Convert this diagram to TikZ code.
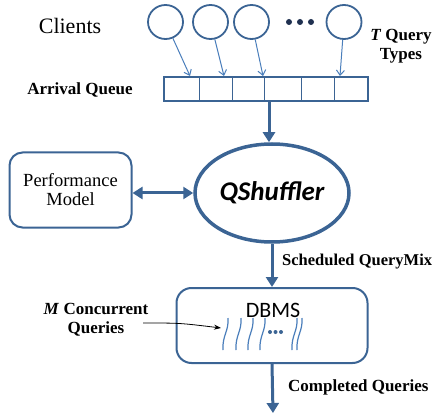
\documentclass[tikz,border=0pt]{standalone}
\usepackage{fontspec}
\setmainfont{Liberation Serif}
\newfontfamily\calibri{Carlito}
\usetikzlibrary{arrows.meta,shapes.geometric}
\definecolor{dblue}{HTML}{3B6494}
\definecolor{lblue}{HTML}{4A7EBB}
\definecolor{navy}{HTML}{1F3050}
\begin{document}
\begin{tikzpicture}[x=1pt,y=-1pt,
  client/.style={draw=dblue,line width=1.8pt,ellipse,minimum width=35pt,minimum height=34pt,inner sep=0pt},
  thinarr/.style={draw=lblue,line width=1pt,-{Straight Barb[length=5pt,width=8pt]}},
  bigarr/.style={draw=dblue,line width=3pt,-{Triangle[length=10pt,width=12pt]}},
  bigdbl/.style={draw=dblue,line width=3pt,{Triangle[length=10pt,width=12pt]}-{Triangle[length=10pt,width=12pt]}},
  rbox/.style={draw=dblue,line width=2pt,rounded corners=13pt,inner sep=0pt},
  blab/.style={font=\fontsize{17}{19}\selectfont\bfseries,inner sep=0pt},
  squig/.style={draw=lblue,line width=1.2pt}
]
\useasboundingbox (0,0) rectangle (436,414);
% clients
\node[font=\fontsize{22}{24}\selectfont,inner sep=0pt] (cl) at (70,26) {Clients};
\node[client] (c1) at (165.5,22) {};
\node[client] (c2) at (210.5,22) {};
\node[client] (c3) at (251.5,22) {};
\node[client] (c4) at (344,22) {};
\foreach \x in {289,300,311} \fill[navy] (\x,22) circle (3pt);
% queue
\node[draw=dblue,line width=1.8pt,minimum width=204pt,minimum height=24pt,inner sep=0pt] (q) at (266,89) {};
\foreach \x in {199,232,264,301,334} \draw[dblue,line width=1pt] (\x,77) -- (\x,101);
\coordinate (q1) at (190,76);
\coordinate (q2) at (224,76);
\coordinate (q3) at (263,76);
\coordinate (q4) at (340,76);
\draw[thinarr] (c1) -- (q1);
\draw[thinarr] (c2) -- (q2);
\draw[thinarr] (c3) -- (q3);
\draw[thinarr] (c4) -- (q4);
\node[blab] (aq) at (80,90) {Arrival Queue};
\node[blab,align=center] (tq) at (401,46) {\textit{T} Query\\Types};
% QShuffler
\node[draw=dblue,line width=3.5pt,ellipse,minimum width=154pt,minimum height=98pt,inner sep=0pt,font=\calibri\fontsize{27}{29}\selectfont\bfseries\itshape] (qs) at (272,193) {QShuffler};
\draw[bigarr] ([xshift=3pt]q.south) -- ([xshift=-3pt]qs.north);
% performance model
\node[rbox,minimum width=122pt,minimum height=75pt,align=center,font=\fontsize{18.5}{19}\selectfont] (pm) at (70.5,190) {Performance\\Model};
\draw[bigdbl] (pm.east |- qs.west) -- (qs.west);
% DBMS
\node[rbox,rounded corners=15pt,minimum width=191pt,minimum height=75pt] (db) at (272,325.5) {};
\node[font=\calibri\fontsize{22}{24}\selectfont,inner sep=0pt] (dbt) at (273,310) {DBMS};
\draw[bigarr] (qs.south) -- (db.north);
\node[blab,font=\fontsize{16.5}{18}\selectfont\bfseries,anchor=west] (sq) at (282,262) {Scheduled QueryMix};
\coordinate (out) at (273,413);
\draw[bigarr] (db.south) -- (out);
\node[blab,anchor=west] (cq) at (288,387) {Completed Queries};
% squiggles
\foreach \x in {228,241,253,265,297,302}
  \draw[squig] (\x,318) .. controls (\x+1,331) and (\x-6,336) .. (\x-5,350);
\foreach \x in {270,275.5,281} \fill[dblue] (\x,332) circle (2pt);
\node[blab,align=center] (mc) at (96,320) {\textit{M} Concurrent\\Queries};
\coordinate (mt) at (221,328);
\coordinate (ms) at (143,323);
\draw[black,line width=0.8pt,-{Stealth[length=7pt,width=5pt]}] (ms) .. controls (180,323) .. (mt);
\end{tikzpicture}
\end{document}
